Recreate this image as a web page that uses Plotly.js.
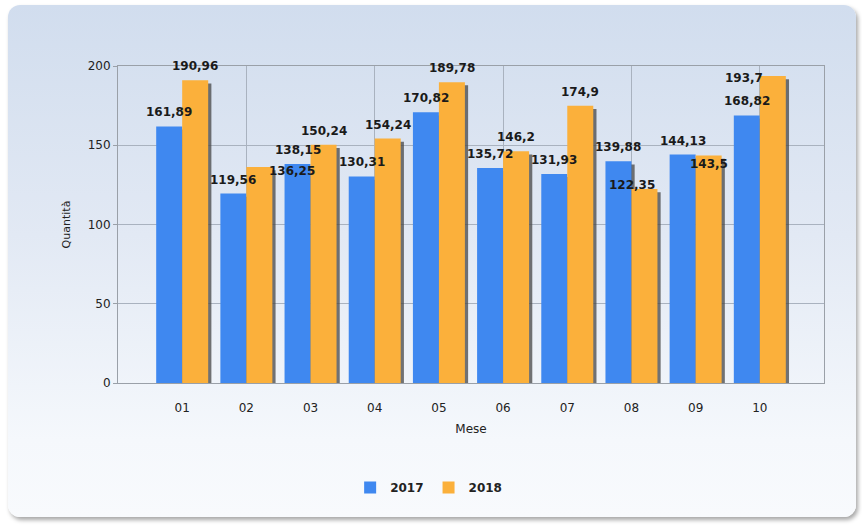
<!DOCTYPE html>
<html>
<head>
<meta charset="utf-8">
<script src="https://cdn.plot.ly/plotly-3.0.1.min.js"></script>
<style>
  html, body { margin: 0; padding: 0; background: #ffffff; }
  #wrap { position: relative; width: 862px; height: 525px; overflow: hidden; }
  #panel {
    position: absolute; left: 8px; top: 5px; width: 848px; height: 512px;
    border-radius: 12px;
    background: linear-gradient(to bottom, #d1ddee 0%, #e2e9f4 45%, #f5f8fc 85%, #f8fafd 100%);
    box-shadow: 2px 3px 4px rgba(0,0,0,0.35);
  }
  #chart { position: absolute; left: 0; top: 0; width: 862px; height: 525px; }
</style>
</head>
<body>
<div id="wrap">
  <div id="panel"></div>
  <div id="chart"></div>
</div>
<script>
// ---- data ----
const months = ['01', '02', '03', '04', '05', '06', '07', '08', '09', '10'];
const values2017 = [161.89, 119.56, 138.15, 130.31, 170.82, 135.72, 131.93, 139.88, 144.13, 168.82];
const values2018 = [190.96, 136.25, 150.24, 154.24, 189.78, 146.2, 174.9, 122.35, 143.5, 193.7];
const seriesNames = ['2017', '2018'];

// ---- style ----
const blue = '#3f88f0';
const orange = '#fbb03b';
const shadow = 'rgba(70,70,70,0.75)';
const barW = 0.405;
const shX = 0.05;   // shadow shift (x units)
const shY = -2;     // shadow shift (y units)
const labelLift = 14; // px between bar top and label centre
// label collision nudges [dx, dy] in px, keyed by series index and month index
const nudges = { '1-1': [33, -18], '1-7': [-12, -10], '1-8': [0, -22], '1-9': [-29, -16] };
const pos = months.map((m, i) => i + 1);
const font = 'DejaVu Sans, Verdana, sans-serif';
const fmt = v => String(v).replace('.', ',');

const shadowTrace = (vals, off) => ({
  type: 'bar', x: pos, y: vals, base: vals.map(() => shY),
  width: barW, offset: off + shX,
  marker: { color: shadow }, showlegend: false, hoverinfo: 'skip'
});
const mainTrace = (vals, off, color, name) => ({
  type: 'bar', x: pos, y: vals, name: name,
  width: barW, offset: off,
  marker: { color: color }, hoverinfo: 'skip'
});

const data = [
  shadowTrace(values2017, -barW),
  shadowTrace(values2018, 0),
  mainTrace(values2017, -barW, blue, seriesNames[0]),
  mainTrace(values2018, 0, orange, seriesNames[1]),
  { type: 'scatter', x: [pos[0]], y: [0], xaxis: 'x2', mode: 'markers',
    marker: { opacity: 0 }, showlegend: false, hoverinfo: 'skip' }
];

const annotations = [];
[values2017, values2018].forEach((vals, s) => {
  const off = s === 0 ? -barW / 2 : barW / 2;
  vals.forEach((v, i) => {
    const n = nudges[s + '-' + i] || [0, 0];
    annotations.push({
      x: pos[i] + off, y: v, xref: 'x', yref: 'y',
      text: fmt(v), showarrow: false,
      xanchor: 'center', yanchor: 'middle',
      xshift: n[0], yshift: labelLift + n[1],
      font: { family: font, size: 12, color: '#1a1a1a', weight: 'bold' }
    });
  });
});

const layout = {
  width: 862, height: 525,
  margin: { l: 118, r: 38, t: 66, b: 142 },
  paper_bgcolor: 'rgba(0,0,0,0)',
  plot_bgcolor: 'rgba(0,0,0,0)',
  barmode: 'overlay',
  showlegend: true,
  font: { family: font, color: '#222' },
  annotations: annotations,
  xaxis: {
    range: [0, 11], tickvals: pos, ticktext: months,
    showgrid: false, zeroline: false,
    showline: true, linecolor: '#9aa0a8', linewidth: 1, mirror: true,
    ticks: 'outside', ticklen: 14, tickcolor: 'rgba(0,0,0,0)',
    tickfont: { size: 12, color: '#222' },
    title: { text: 'Mese', font: { size: 12, color: '#222' }, standoff: 10 }
  },
  xaxis2: {
    overlaying: 'x', range: [0, 11], tickvals: [0, 2, 4, 6, 8, 10],
    showgrid: true, gridcolor: '#a9b2bf', gridwidth: 1,
    showticklabels: false, ticks: '', zeroline: false, showline: false
  },
  yaxis: {
    range: [0, 200], tickvals: [0, 50, 100, 150, 200],
    showgrid: true, gridcolor: '#a9b2bf', zeroline: false,
    showline: true, linecolor: '#9aa0a8', linewidth: 1, mirror: true,
    ticks: 'outside', ticklen: 4, tickcolor: '#9aa0a8',
    tickfont: { size: 12, color: '#222' },
    title: { text: 'Quantità', font: { size: 11, color: '#222' }, standoff: 14 }
  },
  legend: {
    orientation: 'h', x: 0.44, xanchor: 'center', y: -0.33, yanchor: 'middle',
    font: { size: 12, color: '#222', weight: 'bold' },
    bgcolor: 'rgba(0,0,0,0)', traceorder: 'normal'
  }
};

Plotly.newPlot('chart', data, layout, { displayModeBar: false, staticPlot: true });
</script>
</body>
</html>
